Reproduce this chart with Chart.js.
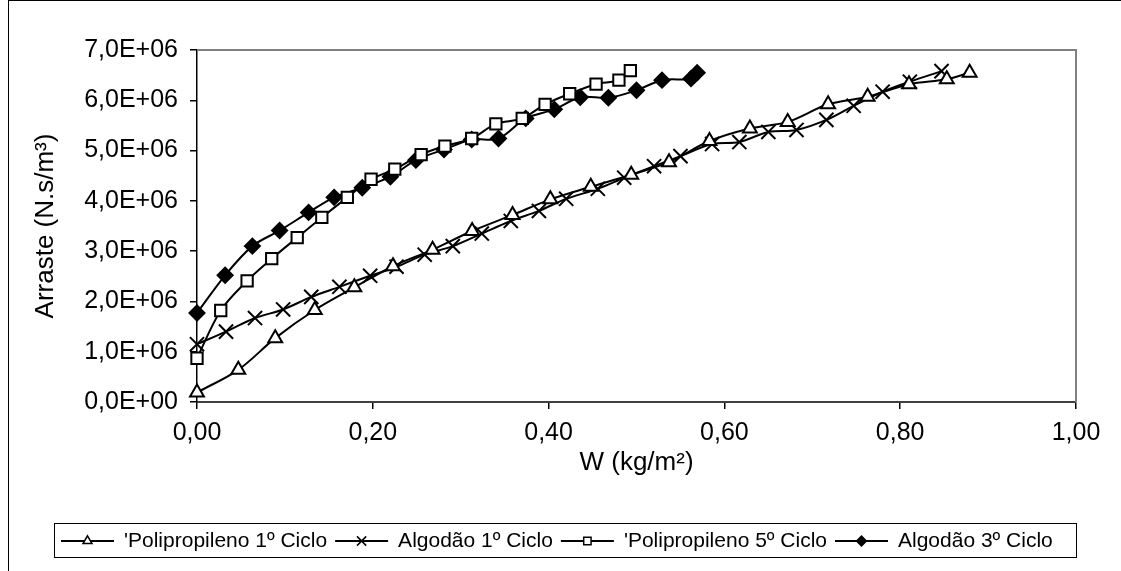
<!DOCTYPE html>
<html>
<head>
<meta charset="utf-8">
<script src="https://cdn.jsdelivr.net/npm/chart.js@4.4.1/dist/chart.umd.min.js"></script>
<style>
  html, body { margin: 0; padding: 0; background: #fff; }
  #wrap { width: 1121px; height: 571px; }
</style>
</head>
<body>
<div id="wrap"><canvas id="dragChart" width="1121" height="571"></canvas></div>
<script>
// Series names (legend)
const seriesNames = ["'Polipropileno 1º Ciclo", 'Algodão 1º Ciclo', "'Polipropileno 5º Ciclo", 'Algodão 3º Ciclo'];

// Polipropileno 1º ciclo
const pp1W = [0, 0.047, 0.089, 0.134, 0.179, 0.223, 0.268, 0.313, 0.359, 0.402, 0.448, 0.494, 0.537, 0.583, 0.629, 0.672, 0.718, 0.763, 0.810, 0.853, 0.879];
const pp1Arraste = [0.19e6, 0.64e6, 1.27e6, 1.83e6, 2.28e6, 2.70e6, 3.03e6, 3.40e6, 3.72e6, 4.03e6, 4.28e6, 4.52e6, 4.77e6, 5.19e6, 5.44e6, 5.57e6, 5.92e6, 6.07e6, 6.32e6, 6.42e6, 6.55e6];

// Algodão 1º ciclo
const alg1W = [0, 0.033, 0.066, 0.098, 0.130, 0.162, 0.197, 0.227, 0.259, 0.291, 0.324, 0.357, 0.389, 0.420, 0.456, 0.486, 0.520, 0.550, 0.586, 0.617, 0.650, 0.682, 0.716, 0.747, 0.780, 0.811, 0.847];
const alg1Arraste = [1.15e6, 1.40e6, 1.67e6, 1.84e6, 2.09e6, 2.29e6, 2.51e6, 2.69e6, 2.93e6, 3.10e6, 3.35e6, 3.60e6, 3.80e6, 4.04e6, 4.24e6, 4.46e6, 4.69e6, 4.89e6, 5.13e6, 5.17e6, 5.37e6, 5.41e6, 5.61e6, 5.89e6, 6.17e6, 6.37e6, 6.58e6];

// Polipropileno 5º ciclo
const pp5W = [0, 0.027, 0.057, 0.085, 0.114, 0.142, 0.171, 0.198, 0.225, 0.255, 0.282, 0.3125, 0.340, 0.370, 0.396, 0.424, 0.454, 0.480, 0.493];
const pp5Arraste = [0.87e6, 1.82e6, 2.41e6, 2.85e6, 3.27e6, 3.67e6, 4.07e6, 4.43e6, 4.63e6, 4.92e6, 5.09e6, 5.24e6, 5.53e6, 5.64e6, 5.92e6, 6.13e6, 6.32e6, 6.40e6, 6.59e6];

// Algodão 3º ciclo
const alg3W = [0, 0.032, 0.063, 0.094, 0.127, 0.156, 0.188, 0.220, 0.249, 0.281, 0.3125, 0.343, 0.374, 0.4065, 0.436, 0.468, 0.500, 0.529, 0.562, 0.569];
const alg3Arraste = [1.77e6, 2.52e6, 3.10e6, 3.41e6, 3.77e6, 4.07e6, 4.26e6, 4.48e6, 4.81e6, 5.02e6, 5.22e6, 5.24e6, 5.64e6, 5.82e6, 6.06e6, 6.05e6, 6.20e6, 6.40e6, 6.43e6, 6.55e6];

// Axis ticks
const xTicks = [0, 0.2, 0.4, 0.6, 0.8, 1.0];
const yTicks = [0, 1e6, 2e6, 3e6, 4e6, 5e6, 6e6, 7e6];

const FONT = 'Liberation Sans, Arial, sans-serif';

function toPoints(xs, ys) {
    return xs.map((x, i) => ({ x: x, y: ys[i] }));
}

// 7000000 -> "7,0E+06"
function sciLabel(v) {
    if (v === 0) return '0,0E+00';
    const exp = Math.floor(Math.log10(Math.abs(v)));
    const mant = v / Math.pow(10, exp);
    return mant.toFixed(1).replace('.', ',') + 'E+' + String(exp).padStart(2, '0');
}

const markerStyles = [
    { pointStyle: 'triangle', radius: 8, fill: '#fff' },
    { pointStyle: 'crossRot', radius: 10, fill: '#000' },
    { pointStyle: 'rect', radius: 8, fill: '#fff' },
    { pointStyle: 'rectRot', radius: 7.5, fill: '#000' }
];

const seriesData = [
    toPoints(pp1W, pp1Arraste),
    toPoints(alg1W, alg1Arraste),
    toPoints(pp5W, pp5Arraste),
    toPoints(alg3W, alg3Arraste)
];

const datasets = seriesData.map((pts, i) => ({
    label: seriesNames[i],
    data: pts,
    showLine: true,
    borderColor: '#000',
    borderWidth: 2,
    tension: 0.33,
    pointStyle: markerStyles[i].pointStyle,
    pointRadius: markerStyles[i].radius,
    pointBackgroundColor: markerStyles[i].fill,
    pointBorderColor: '#000',
    pointBorderWidth: 2,
    clip: false
}));

// Frame around the plot area, outer border and the boxed legend
const framePlugin = {
    id: 'frame',
    beforeDraw(chart) {
        const ctx = chart.ctx;
        ctx.save();
        ctx.fillStyle = '#fff';
        ctx.fillRect(0, 0, chart.width, chart.height);
        ctx.restore();
    },
    beforeDatasetsDraw(chart) {
        const { ctx, chartArea: a } = chart;
        ctx.save();
        ctx.strokeStyle = '#808080';
        ctx.lineWidth = 2;
        ctx.beginPath();
        ctx.moveTo(a.left, a.top);
        ctx.lineTo(a.right, a.top);
        ctx.lineTo(a.right, a.bottom);
        ctx.stroke();
        ctx.restore();
    },
    afterDraw(chart) {
        const ctx = chart.ctx;
        ctx.save();
        // outer chart border
        ctx.strokeStyle = '#000';
        ctx.lineWidth = 1;
        ctx.strokeRect(8.5, 0.5, chart.width + 10, chart.height + 10);

        // legend
        const box = { left: 54, right: 1076, top: 523, bottom: 557 };
        ctx.fillStyle = '#fff';
        ctx.fillRect(box.left, box.top, box.right - box.left, box.bottom - box.top);
        ctx.strokeStyle = '#000';
        ctx.lineWidth = 1;
        ctx.strokeRect(box.left + 0.5, box.top + 0.5, box.right - box.left, box.bottom - box.top);

        ctx.font = '21px ' + FONT;
        ctx.textBaseline = 'middle';
        const cy = (box.top + box.bottom) / 2 + 1;
        let x = box.left + 7;
        const sampleW = 53;
        seriesNames.forEach((name, i) => {
            ctx.strokeStyle = '#000';
            ctx.lineWidth = 2;
            ctx.beginPath();
            ctx.moveTo(x, cy);
            ctx.lineTo(x + sampleW, cy);
            ctx.stroke();
            ctx.fillStyle = markerStyles[i].fill;
            ctx.lineWidth = 1.5;
            Chart.helpers.drawPoint(ctx, {
                pointStyle: markerStyles[i].pointStyle,
                radius: markerStyles[i].radius * 0.65,
                borderWidth: 1.5,
                rotation: 0
            }, x + sampleW / 2, cy);
            x += sampleW + 10;
            ctx.fillStyle = '#000';
            ctx.textAlign = 'left';
            ctx.fillText(name, x, cy);
            x += ctx.measureText(name).width + 8;
        });
        ctx.restore();
    }
};

const ctx = document.getElementById('dragChart').getContext('2d');
const dragChart = new Chart(ctx, {
    type: 'scatter',
    data: { datasets: datasets },
    options: {
        responsive: false,
        animation: false,
        devicePixelRatio: 1,
        layout: { padding: { left: 10, top: 50, right: 45, bottom: 93 } },
        plugins: {
            legend: { display: false },
            tooltip: { enabled: false }
        },
        scales: {
            x: {
                type: 'linear',
                min: 0,
                max: 1,
                afterFit(scale) { scale.height = 76; },
                afterBuildTicks(scale) { scale.ticks = xTicks.map(v => ({ value: v })); },
                ticks: {
                    color: '#000',
                    font: { family: FONT, size: 25 },
                    padding: 9,
                    callback: v => Number(v).toFixed(2).replace('.', ',')
                },
                grid: { drawOnChartArea: false, drawTicks: true, tickLength: 7, color: '#000', lineWidth: 1.5 },
                border: { color: '#404040', width: 2 },
                title: {
                    display: true,
                    text: 'W (kg/m²)',
                    color: '#000',
                    font: { family: FONT, size: 26 },
                    padding: { top: 0, bottom: 0 }
                }
            },
            y: {
                type: 'linear',
                min: 0,
                max: 7e6,
                afterFit(scale) { scale.width = 187; },
                afterBuildTicks(scale) { scale.ticks = yTicks.map(v => ({ value: v })); },
                ticks: {
                    color: '#000',
                    font: { family: FONT, size: 25 },
                    padding: 12,
                    callback: v => sciLabel(v)
                },
                grid: { drawOnChartArea: false, drawTicks: true, tickLength: 7, color: '#000', lineWidth: 1.5 },
                border: { color: '#000', width: 1.5 },
                title: {
                    display: true,
                    text: 'Arraste (N.s/m³)',
                    color: '#000',
                    font: { family: FONT, size: 26 },
                    padding: { top: 20, bottom: 0 }
                }
            }
        }
    },
    plugins: [framePlugin]
});
</script>
</body>
</html>
